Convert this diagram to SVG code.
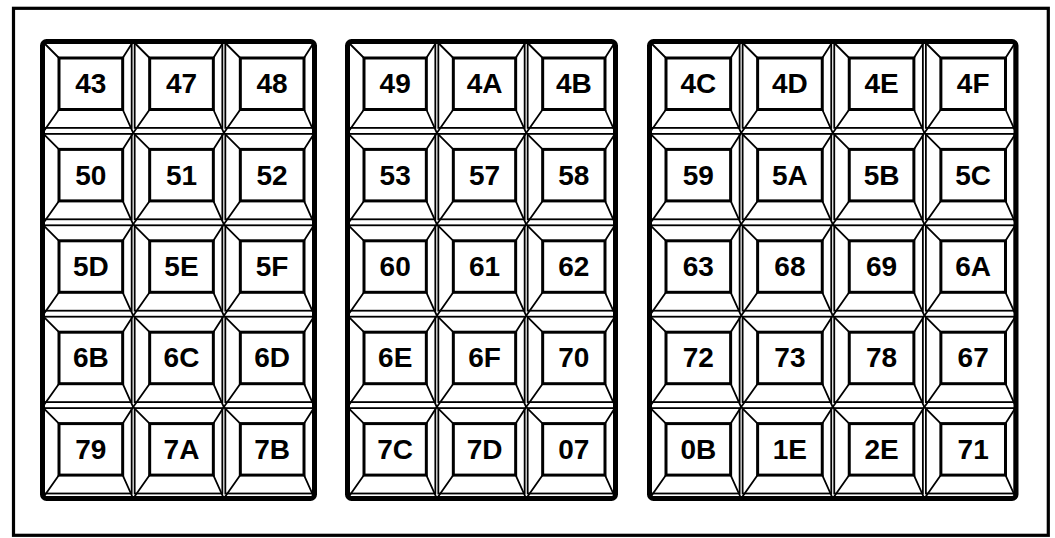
<svg xmlns="http://www.w3.org/2000/svg" xmlns:xlink="http://www.w3.org/1999/xlink" width="1055" height="538" viewBox="0 0 1055 538">
<style>
.ol{fill:none;stroke:#000;stroke-width:1.8}
.in{fill:#fff;stroke:#000;stroke-width:3}
.dg{fill:none;stroke:#000;stroke-width:1.8}
.pad{fill:none;stroke:#000;stroke-width:5}
.frame{fill:none;stroke:#000;stroke-width:3.2}
text{font-family:"Liberation Sans",Arial,sans-serif;font-weight:bold;font-size:28px;text-anchor:middle;fill:#000}
</style>
<defs>
<g id="keyA">
<rect class="ol" x="1.5" y="1" width="87.67" height="85.4"/>
<path class="dg" d="M16.5,16.5L0,0M80.17,16.5L90.67,0M16.5,68L0,91.4M80.17,68L90.67,91.4"/>
<rect class="in" x="16.5" y="16.5" width="63.67" height="51.5"/>
</g>
<g id="keyB">
<rect class="ol" x="1.5" y="1" width="86.33" height="85.4"/>
<path class="dg" d="M16.5,16.5L0,0M78.83,16.5L89.33,0M16.5,68L0,91.4M78.83,68L89.33,91.4"/>
<rect class="in" x="16.5" y="16.5" width="62.33" height="51.5"/>
</g>
<g id="keyC">
<rect class="ol" x="1.5" y="1" width="88.625" height="85.4"/>
<path class="dg" d="M16.5,16.5L0,0M81.125,16.5L91.625,0M16.5,68L0,91.4M81.125,68L91.625,91.4"/>
<rect class="in" x="16.5" y="16.5" width="64.625" height="51.5"/>
</g>
</defs>
<rect width="1055" height="538" fill="#fff"/>
<rect id="frame" class="frame" x="13.5" y="8.3" width="1034.8" height="527"/>

<g id="keypad1">
<g id="k43" transform="translate(42.5,41.5)"><use xlink:href="#keyA"/><text x="48.3" y="51.8">43</text></g>
<g id="k47" transform="translate(133.17,41.5)"><use xlink:href="#keyA"/><text x="48.3" y="51.8">47</text></g>
<g id="k48" transform="translate(223.83,41.5)"><use xlink:href="#keyA"/><text x="48.3" y="51.8">48</text></g>
<g id="k50" transform="translate(42.5,132.9)"><use xlink:href="#keyA"/><text x="48.3" y="51.8">50</text></g>
<g id="k51" transform="translate(133.17,132.9)"><use xlink:href="#keyA"/><text x="48.3" y="51.8">51</text></g>
<g id="k52" transform="translate(223.83,132.9)"><use xlink:href="#keyA"/><text x="48.3" y="51.8">52</text></g>
<g id="k5D" transform="translate(42.5,224.3)"><use xlink:href="#keyA"/><text x="48.3" y="51.8">5D</text></g>
<g id="k5E" transform="translate(133.17,224.3)"><use xlink:href="#keyA"/><text x="48.3" y="51.8">5E</text></g>
<g id="k5F" transform="translate(223.83,224.3)"><use xlink:href="#keyA"/><text x="48.3" y="51.8">5F</text></g>
<g id="k6B" transform="translate(42.5,315.7)"><use xlink:href="#keyA"/><text x="48.3" y="51.8">6B</text></g>
<g id="k6C" transform="translate(133.17,315.7)"><use xlink:href="#keyA"/><text x="48.3" y="51.8">6C</text></g>
<g id="k6D" transform="translate(223.83,315.7)"><use xlink:href="#keyA"/><text x="48.3" y="51.8">6D</text></g>
<g id="k79" transform="translate(42.5,407.1)"><use xlink:href="#keyA"/><text x="48.3" y="51.8">79</text></g>
<g id="k7A" transform="translate(133.17,407.1)"><use xlink:href="#keyA"/><text x="48.3" y="51.8">7A</text></g>
<g id="k7B" transform="translate(223.83,407.1)"><use xlink:href="#keyA"/><text x="48.3" y="51.8">7B</text></g>
<rect class="pad" x="42.5" y="41.5" width="272" height="457" rx="4"/>
</g>

<g id="keypad2">
<g id="k49" transform="translate(347.5,41.5)"><use xlink:href="#keyB"/><text x="47.7" y="51.8">49</text></g>
<g id="k4A" transform="translate(436.83,41.5)"><use xlink:href="#keyB"/><text x="47.7" y="51.8">4A</text></g>
<g id="k4B" transform="translate(526.17,41.5)"><use xlink:href="#keyB"/><text x="47.7" y="51.8">4B</text></g>
<g id="k53" transform="translate(347.5,132.9)"><use xlink:href="#keyB"/><text x="47.7" y="51.8">53</text></g>
<g id="k57" transform="translate(436.83,132.9)"><use xlink:href="#keyB"/><text x="47.7" y="51.8">57</text></g>
<g id="k58" transform="translate(526.17,132.9)"><use xlink:href="#keyB"/><text x="47.7" y="51.8">58</text></g>
<g id="k60" transform="translate(347.5,224.3)"><use xlink:href="#keyB"/><text x="47.7" y="51.8">60</text></g>
<g id="k61" transform="translate(436.83,224.3)"><use xlink:href="#keyB"/><text x="47.7" y="51.8">61</text></g>
<g id="k62" transform="translate(526.17,224.3)"><use xlink:href="#keyB"/><text x="47.7" y="51.8">62</text></g>
<g id="k6E" transform="translate(347.5,315.7)"><use xlink:href="#keyB"/><text x="47.7" y="51.8">6E</text></g>
<g id="k6F" transform="translate(436.83,315.7)"><use xlink:href="#keyB"/><text x="47.7" y="51.8">6F</text></g>
<g id="k70" transform="translate(526.17,315.7)"><use xlink:href="#keyB"/><text x="47.7" y="51.8">70</text></g>
<g id="k7C" transform="translate(347.5,407.1)"><use xlink:href="#keyB"/><text x="47.7" y="51.8">7C</text></g>
<g id="k7D" transform="translate(436.83,407.1)"><use xlink:href="#keyB"/><text x="47.7" y="51.8">7D</text></g>
<g id="k07" transform="translate(526.17,407.1)"><use xlink:href="#keyB"/><text x="47.7" y="51.8">07</text></g>
<rect class="pad" x="347.5" y="41.5" width="268" height="457" rx="4"/>
</g>

<g id="keypad3">
<g id="k4C" transform="translate(649.5,41.5)"><use xlink:href="#keyC"/><text x="48.8" y="51.8">4C</text></g>
<g id="k4D" transform="translate(741.125,41.5)"><use xlink:href="#keyC"/><text x="48.8" y="51.8">4D</text></g>
<g id="k4E" transform="translate(832.75,41.5)"><use xlink:href="#keyC"/><text x="48.8" y="51.8">4E</text></g>
<g id="k4F" transform="translate(924.375,41.5)"><use xlink:href="#keyC"/><text x="48.8" y="51.8">4F</text></g>
<g id="k59" transform="translate(649.5,132.9)"><use xlink:href="#keyC"/><text x="48.8" y="51.8">59</text></g>
<g id="k5A" transform="translate(741.125,132.9)"><use xlink:href="#keyC"/><text x="48.8" y="51.8">5A</text></g>
<g id="k5B" transform="translate(832.75,132.9)"><use xlink:href="#keyC"/><text x="48.8" y="51.8">5B</text></g>
<g id="k5C" transform="translate(924.375,132.9)"><use xlink:href="#keyC"/><text x="48.8" y="51.8">5C</text></g>
<g id="k63" transform="translate(649.5,224.3)"><use xlink:href="#keyC"/><text x="48.8" y="51.8">63</text></g>
<g id="k68" transform="translate(741.125,224.3)"><use xlink:href="#keyC"/><text x="48.8" y="51.8">68</text></g>
<g id="k69" transform="translate(832.75,224.3)"><use xlink:href="#keyC"/><text x="48.8" y="51.8">69</text></g>
<g id="k6A" transform="translate(924.375,224.3)"><use xlink:href="#keyC"/><text x="48.8" y="51.8">6A</text></g>
<g id="k72" transform="translate(649.5,315.7)"><use xlink:href="#keyC"/><text x="48.8" y="51.8">72</text></g>
<g id="k73" transform="translate(741.125,315.7)"><use xlink:href="#keyC"/><text x="48.8" y="51.8">73</text></g>
<g id="k78" transform="translate(832.75,315.7)"><use xlink:href="#keyC"/><text x="48.8" y="51.8">78</text></g>
<g id="k67" transform="translate(924.375,315.7)"><use xlink:href="#keyC"/><text x="48.8" y="51.8">67</text></g>
<g id="k0B" transform="translate(649.5,407.1)"><use xlink:href="#keyC"/><text x="48.8" y="51.8">0B</text></g>
<g id="k1E" transform="translate(741.125,407.1)"><use xlink:href="#keyC"/><text x="48.8" y="51.8">1E</text></g>
<g id="k2E" transform="translate(832.75,407.1)"><use xlink:href="#keyC"/><text x="48.8" y="51.8">2E</text></g>
<g id="k71" transform="translate(924.375,407.1)"><use xlink:href="#keyC"/><text x="48.8" y="51.8">71</text></g>
<rect class="pad" x="649.5" y="41.5" width="366.5" height="457" rx="4"/>
</g>
<g id="connectors"/>
</svg>
